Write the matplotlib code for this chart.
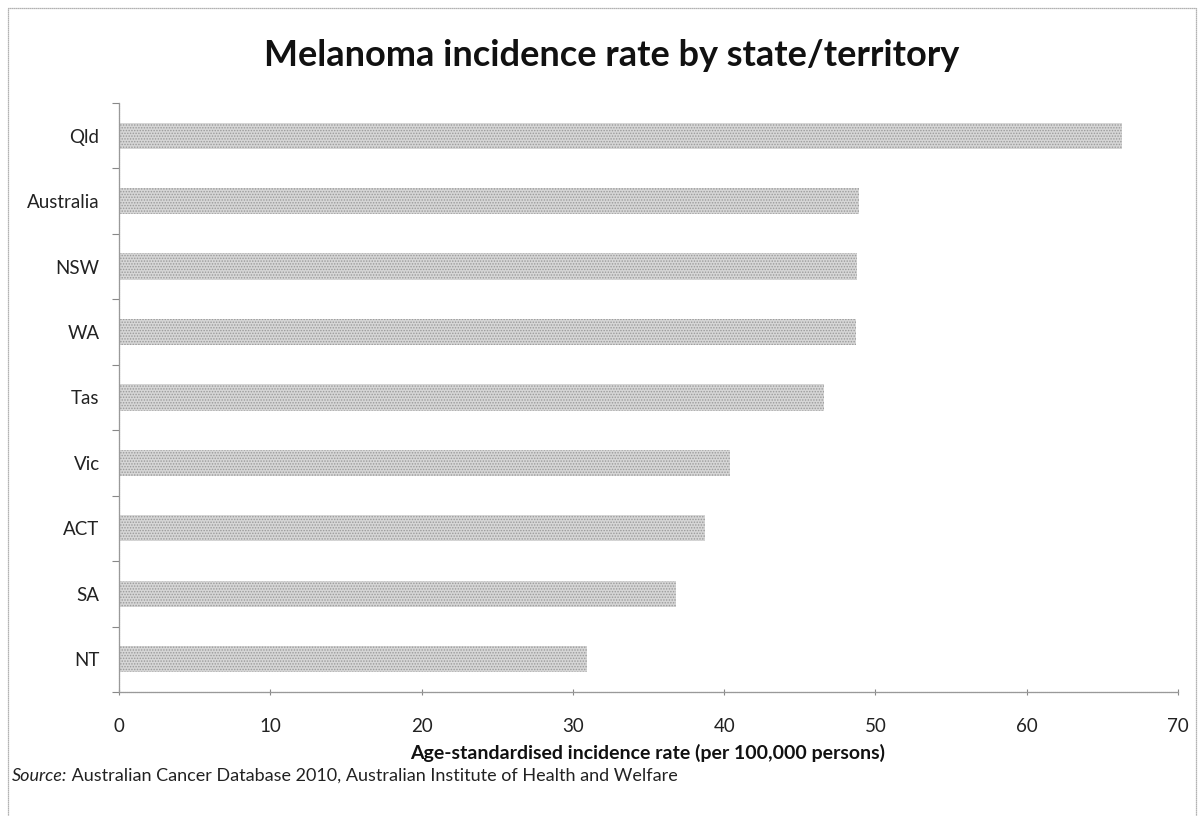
import matplotlib.pyplot as plt
import matplotlib.patches as mpatches
import numpy as np

plt.rcParams["font.family"] = ["Lato", "DejaVu Sans"]
plt.rcParams["hatch.linewidth"] = 0.7

states = ["Qld", "Australia", "NSW", "WA", "Tas", "Vic", "ACT", "SA", "NT"]
rates = [66.3, 48.9, 48.8, 48.7, 46.6, 40.4, 38.7, 36.8, 30.9]
xticks = [0, 10, 20, 30, 40, 50, 60, 70]

fig = plt.figure(figsize=(12, 8.16), dpi=100)
ax = fig.add_axes([0.0992, 0.152, 0.8825, 0.7218])

ypos = np.arange(len(states))
ax.barh(ypos, rates, height=0.4, color="#d6d6d6", hatch="......",
        edgecolor="#9a9a9a", linewidth=0)

ax.set_ylim(len(states) - 0.5, -0.5)
ax.set_xlim(0, 70)
ax.set_xticks(xticks)
ax.set_xticklabels([str(t) for t in xticks])
ax.set_yticks(ypos)
ax.set_yticklabels(states)
ax.set_yticks(np.arange(-0.5, len(states)), minor=True)

ax.tick_params(axis="y", which="major", length=0, pad=14, labelsize=13.5, labelcolor="#222222")
ax.tick_params(axis="y", which="minor", length=5, width=0.8, color="#888888", direction="out")
ax.tick_params(axis="x", length=5, width=0.8, color="#888888", direction="inout",
               pad=16, labelsize=13.5, labelcolor="#222222")

for side in ["top", "right"]:
    ax.spines[side].set_visible(False)
for side in ["left", "bottom"]:
    ax.spines[side].set_color("#999999")
    ax.spines[side].set_linewidth(0.9)
    ax.spines[side].set_linestyle((0, (1, 0.6)))

ax.set_xlabel("Age-standardised incidence rate (per 100,000 persons)",
              fontsize=14, fontweight="bold", color="#111111")
ax.xaxis.set_label_coords(0.4995, -0.088)

fig.text(0.51, 0.932, "Melanoma incidence rate by state/territory",
         ha="center", va="center", fontsize=26, fontweight="bold", color="#111111")

src = fig.text(0.01, 0.049, "Source:", ha="left", va="center", fontsize=13,
               style="italic", color="#222222")
ax.annotate(" Australian Cancer Database 2010, Australian Institute of Health and Welfare",
            xy=(1, 0.5), xycoords=src, ha="left", va="center",
            fontsize=13, color="#222222", annotation_clip=False)

# thin frame round the whole chart
frame = mpatches.Rectangle((0.007, -0.02), 0.99, 1.01, transform=fig.transFigure,
                           fill=False, edgecolor="#999999", linewidth=0.9,
                           linestyle=(0, (1, 0.6)))
fig.patches.append(frame)

plt.savefig("out.png", dpi=100)
